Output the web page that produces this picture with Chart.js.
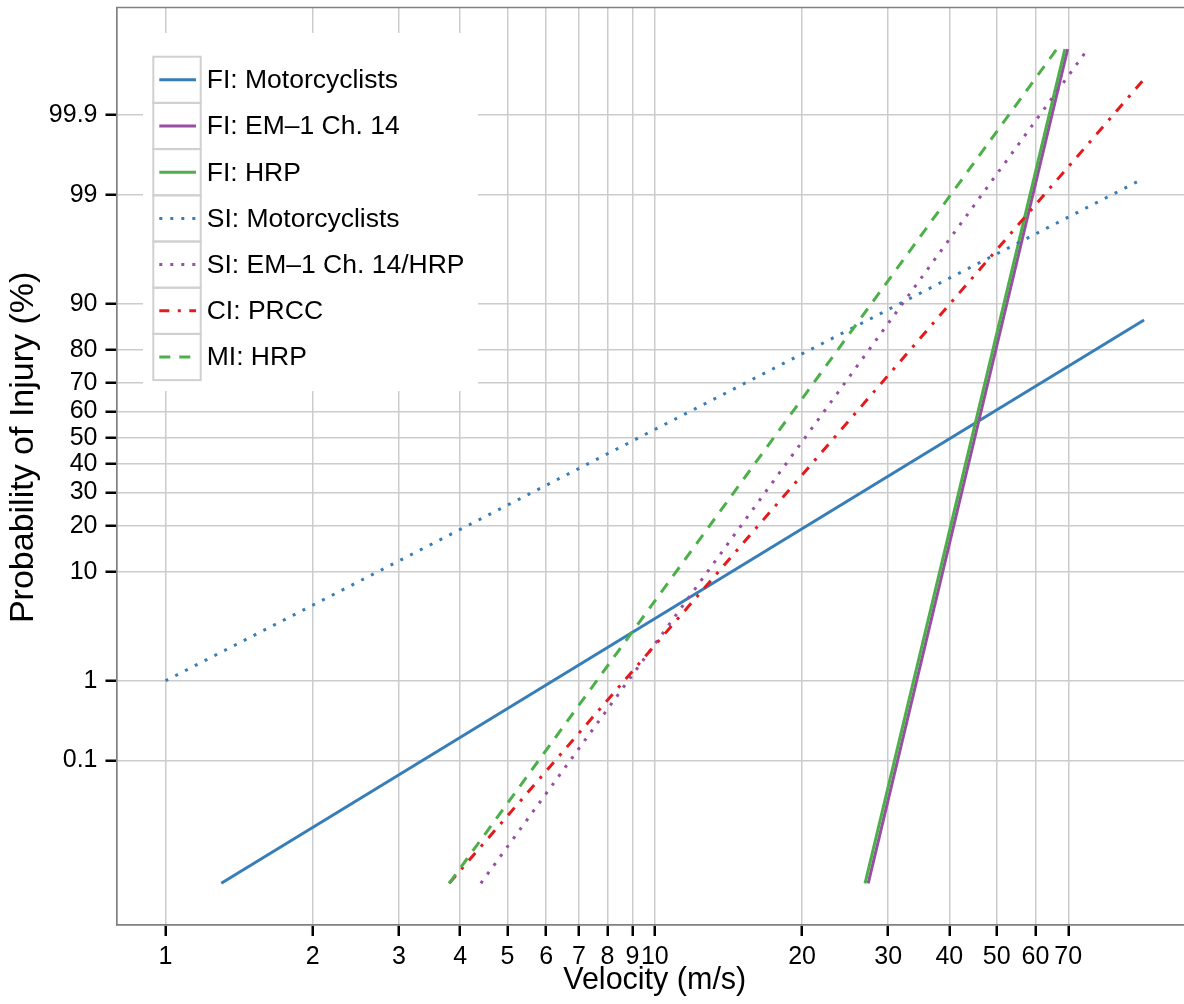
<!DOCTYPE html>
<html>
<head>
<meta charset="utf-8">
<script src="https://cdn.jsdelivr.net/npm/chart.js@4.4.0/dist/chart.umd.min.js"></script>
<style>
  html, body { margin: 0; padding: 0; background: #fff; overflow: hidden; }
  #wrap { width: 1184px; height: 1004px; overflow: hidden; }
</style>
</head>
<body>
<div id="wrap"><canvas id="injury-chart" width="1194" height="1004"></canvas></div>
<script>
// velocity (m/s) and probability (%) at the ends of each curve
var fiMotoVel = [1.3, 100];
var fiMotoPct = [0.001, 87.0];
var fiEmVel = [27.3, 69.8];
var fiEmPct = [0.001, 99.99];
var fiHrpVel = [26.9, 68.9];
var fiHrpPct = [0.001, 99.99];
var siMotoVel = [1, 100];
var siMotoPct = [1.0, 99.35];
var siEmVel = [4.41, 76.7];
var siEmPct = [0.001, 99.99];
var ciPrccVel = [3.8, 100];
var ciPrccPct = [0.001, 99.97];
var miHrpVel = [3.8, 66.3];
var miHrpPct = [0.001, 99.99];

var xTicks = [1, 2, 3, 4, 5, 6, 7, 8, 9, 10, 20, 30, 40, 50, 60, 70];
var yTickPct = [0.1, 1, 10, 20, 30, 40, 50, 60, 70, 80, 90, 99, 99.9];
var yTickLabels = ['0.1', '1', '10', '20', '30', '40', '50', '60', '70', '80', '90', '99', '99.9'];

var FONT = "'Liberation Sans', Arial, Helvetica, sans-serif";
Chart.defaults.font.family = FONT;
Chart.defaults.color = '#000';

// inverse normal CDF (Acklam), gives the probability-paper y axis
function probit(p) {
    var a = [-3.969683028665376e+01, 2.209460984245205e+02, -2.759285104469687e+02, 1.383577518672690e+02, -3.066479806614716e+01, 2.506628277459239e+00];
    var b = [-5.447609879822406e+01, 1.615858368580409e+02, -1.556989798598866e+02, 6.680131188771972e+01, -1.328068155288572e+01];
    var c = [-7.784894002430293e-03, -3.223964580411365e-01, -2.400758277161838e+00, -2.549732539343734e+00, 4.374664141464968e+00, 2.938163982698783e+00];
    var d = [7.784695709041462e-03, 3.224671290700398e-01, 2.445134137142996e+00, 3.754408661907416e+00];
    var pl = 0.02425, q, r;
    if (p < pl) {
        q = Math.sqrt(-2 * Math.log(p));
        return (((((c[0] * q + c[1]) * q + c[2]) * q + c[3]) * q + c[4]) * q + c[5]) / ((((d[0] * q + d[1]) * q + d[2]) * q + d[3]) * q + 1);
    }
    if (p > 1 - pl) {
        q = Math.sqrt(-2 * Math.log(1 - p));
        return -(((((c[0] * q + c[1]) * q + c[2]) * q + c[3]) * q + c[4]) * q + c[5]) / ((((d[0] * q + d[1]) * q + d[2]) * q + d[3]) * q + 1);
    }
    q = p - 0.5;
    r = q * q;
    return (((((a[0] * r + a[1]) * r + a[2]) * r + a[3]) * r + a[4]) * r + a[5]) * q / (((((b[0] * r + b[1]) * r + b[2]) * r + b[3]) * r + b[4]) * r + 1);
}

function toPoints(vel, pct) {
    return vel.map(function (v, i) { return { x: v, y: probit(pct[i] / 100) }; });
}

var series = [
    { label: 'FI: Motorcyclists', vel: fiMotoVel, pct: fiMotoPct, color: '#377eb8', dash: [] },
    { label: 'FI: EM\u20131 Ch. 14', vel: fiEmVel, pct: fiEmPct, color: '#984ea3', dash: [] },
    { label: 'FI: HRP', vel: fiHrpVel, pct: fiHrpPct, color: '#4daf4a', dash: [] },
    { label: 'SI: Motorcyclists', vel: siMotoVel, pct: siMotoPct, color: '#377eb8', dash: [3, 8] },
    { label: 'SI: EM\u20131 Ch. 14/HRP', vel: siEmVel, pct: siEmPct, color: '#984ea3', dash: [3, 8] },
    { label: 'CI: PRCC', vel: ciPrccVel, pct: ciPrccPct, color: '#e41a1c', dash: [10, 8.5, 3, 8.5] },
    { label: 'MI: HRP', vel: miHrpVel, pct: miHrpPct, color: '#4daf4a', dash: [11, 9] }
];

// top spine + legend box in the upper left
var frameAndLegend = {
    id: 'frameAndLegend',
    afterDatasetsDraw: function (chart) {
        var c = chart.ctx, area = chart.chartArea;
        c.save();
        c.strokeStyle = '#808080';
        c.lineWidth = 1.7;
        c.beginPath();
        c.moveTo(area.left, area.top);
        c.lineTo(area.right, area.top);
        c.stroke();

        c.fillStyle = '#fff';
        c.fillRect(143, 33, 335, 358);
        var rowH = 46.2, top0 = 56.7;
        chart.data.datasets.forEach(function (ds, i) {
            var y0 = top0 + i * rowH, cy = y0 + rowH / 2;
            c.setLineDash([]);
            c.strokeStyle = '#d0d0d0';
            c.lineWidth = 2;
            c.strokeRect(153.3, y0, 47.4, rowH);
            c.strokeStyle = ds.borderColor;
            c.lineWidth = 3;
            c.setLineDash(ds.borderDash);
            c.beginPath();
            c.moveTo(159.3, cy);
            c.lineTo(196, cy);
            c.stroke();
            c.setLineDash([]);
            c.fillStyle = '#000';
            c.font = '26.5px ' + FONT;
            c.textBaseline = 'middle';
            c.textAlign = 'left';
            c.fillText(ds.label, 206.7, cy + 1);
        });
        c.restore();
    }
};

var ctx = document.getElementById('injury-chart').getContext('2d');
var myChart = new Chart(ctx, {
    type: 'line',
    data: {
        datasets: series.map(function (s, i) {
            return {
                label: s.label,
                data: toPoints(s.vel, s.pct),
                borderColor: s.color,
                backgroundColor: s.color,
                borderWidth: 3,
                borderDash: s.dash,
                borderCapStyle: 'butt',
                pointRadius: 0,
                fill: false,
                tension: 0,
                order: series.length - i // later series on top, like the original
            };
        })
    },
    options: {
        responsive: false,
        animation: false,
        devicePixelRatio: 1,
        layout: { padding: { top: 7.5, right: 1, left: 0, bottom: 0 } },
        plugins: {
            legend: { display: false },
            tooltip: { enabled: false }
        },
        scales: {
            x: {
                type: 'logarithmic',
                min: 0.794,
                max: 125.9,
                afterBuildTicks: function (scale) {
                    scale.ticks = xTicks.map(function (v) { return { value: v }; });
                },
                afterFit: function (scale) {
                    scale.height = 79;
                    scale.paddingLeft = 0;
                    scale.paddingRight = 0;
                },
                ticks: {
                    autoSkip: false,
                    maxRotation: 0,
                    padding: 6,
                    font: { size: 25 },
                    callback: function (value) { return String(value); }
                },
                grid: { color: '#cccccc', lineWidth: 1.5, tickColor: '#000', tickWidth: 2.5, tickLength: 11 },
                border: { color: '#808080', width: 1.7 },
                title: { display: true, text: 'Velocity (m/s)', font: { size: 30.5 }, padding: { top: 0, bottom: 5 } }
            },
            y: {
                type: 'linear',
                min: -4.664,
                max: 4.118,
                afterBuildTicks: function (scale) {
                    scale.ticks = yTickPct.map(function (p) { return { value: probit(p / 100) }; });
                },
                afterFit: function (scale) {
                    scale.width = 116.5;
                    scale.paddingTop = 0;
                    scale.paddingBottom = 0;
                },
                ticks: {
                    autoSkip: false,
                    padding: 8,
                    font: { size: 25 },
                    callback: function (value, index) { return yTickLabels[index]; }
                },
                grid: { color: '#cccccc', lineWidth: 1.5, tickColor: '#000', tickWidth: 2.5, tickLength: 11 },
                border: { color: '#808080', width: 1.7 },
                // leading spaces nudge the label up a little, as in the original
                title: { display: true, text: '    Probability of Injury (%)', font: { size: 34 }, padding: { top: 3.5, bottom: 0 } }
            }
        }
    },
    plugins: [frameAndLegend]
});
</script>
</body>
</html>
